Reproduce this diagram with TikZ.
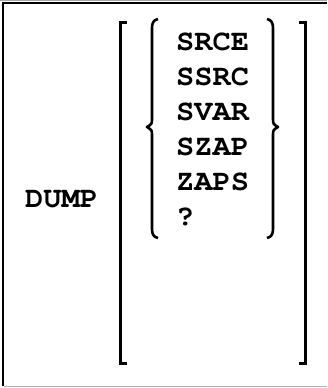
\documentclass[tikz,border=0pt]{standalone}
\usepackage[T1]{fontenc}
\usepackage{graphicx}
\usepackage{courier}
\newcommand{\cw}[1]{\scalebox{1.03}[1]{#1}}
\begin{document}
\begin{tikzpicture}[x=1pt,y=-1pt,
  txt/.style={inner sep=0pt,anchor=base west,font=\fontfamily{pcr}\fontseries{b}\fontsize{29.5}{33}\selectfont},
  brk/.style={line width=3pt,line cap=butt,line join=miter},
  brc/.style={line width=2.6pt,line cap=butt,line join=round}]
\useasboundingbox (0,0) rectangle (327,388);
% frame
\draw[gray!70,line width=1pt] (0,0.5) -- (327,0.5);
\draw[black,line width=2pt] (2,2.5) -- (327,2.5);
\draw[black,line width=2pt] (2.5,2) -- (2.5,386);
\draw[gray!60,line width=1.5pt] (3.5,386.5) -- (327,386.5);
% text
\node[txt] (dump) at (25,207) {\cw{DUMP}};
\node[txt] (o1) at (176,50) {\cw{SRCE}};
\node[txt] (o2) at (176,85) {\cw{SSRC}};
\node[txt] (o3) at (176,120) {\cw{SVAR}};
\node[txt] (o4) at (176,155) {\cw{SZAP}};
\node[txt] (o5) at (176,190) {\cw{ZAPS}};
\node[txt] (o6) at (176,225) {\cw{?}};
% brackets
\draw[brk] (127,22) -- (120,22) -- (120,363) -- (127,363);
\draw[brk] (299,22) -- (305.5,22) -- (305.5,363) -- (299,363);
% braces
\draw[brc] (158,19) .. controls (153.5,20) and (152,23) .. (152,28) -- (152,118)
  .. controls (152,124) .. (147,127) .. controls (152,130) .. (152,136) -- (152,229)
  .. controls (152,234) and (153.5,237) .. (158,238);
\draw[brc] (267,19) .. controls (271.5,20) and (273,23) .. (273,28) -- (273,118)
  .. controls (273,124) .. (278,127) .. controls (273,130) .. (273,136) -- (273,229)
  .. controls (273,234) and (271.5,237) .. (267,238);
\end{tikzpicture}
\end{document}
